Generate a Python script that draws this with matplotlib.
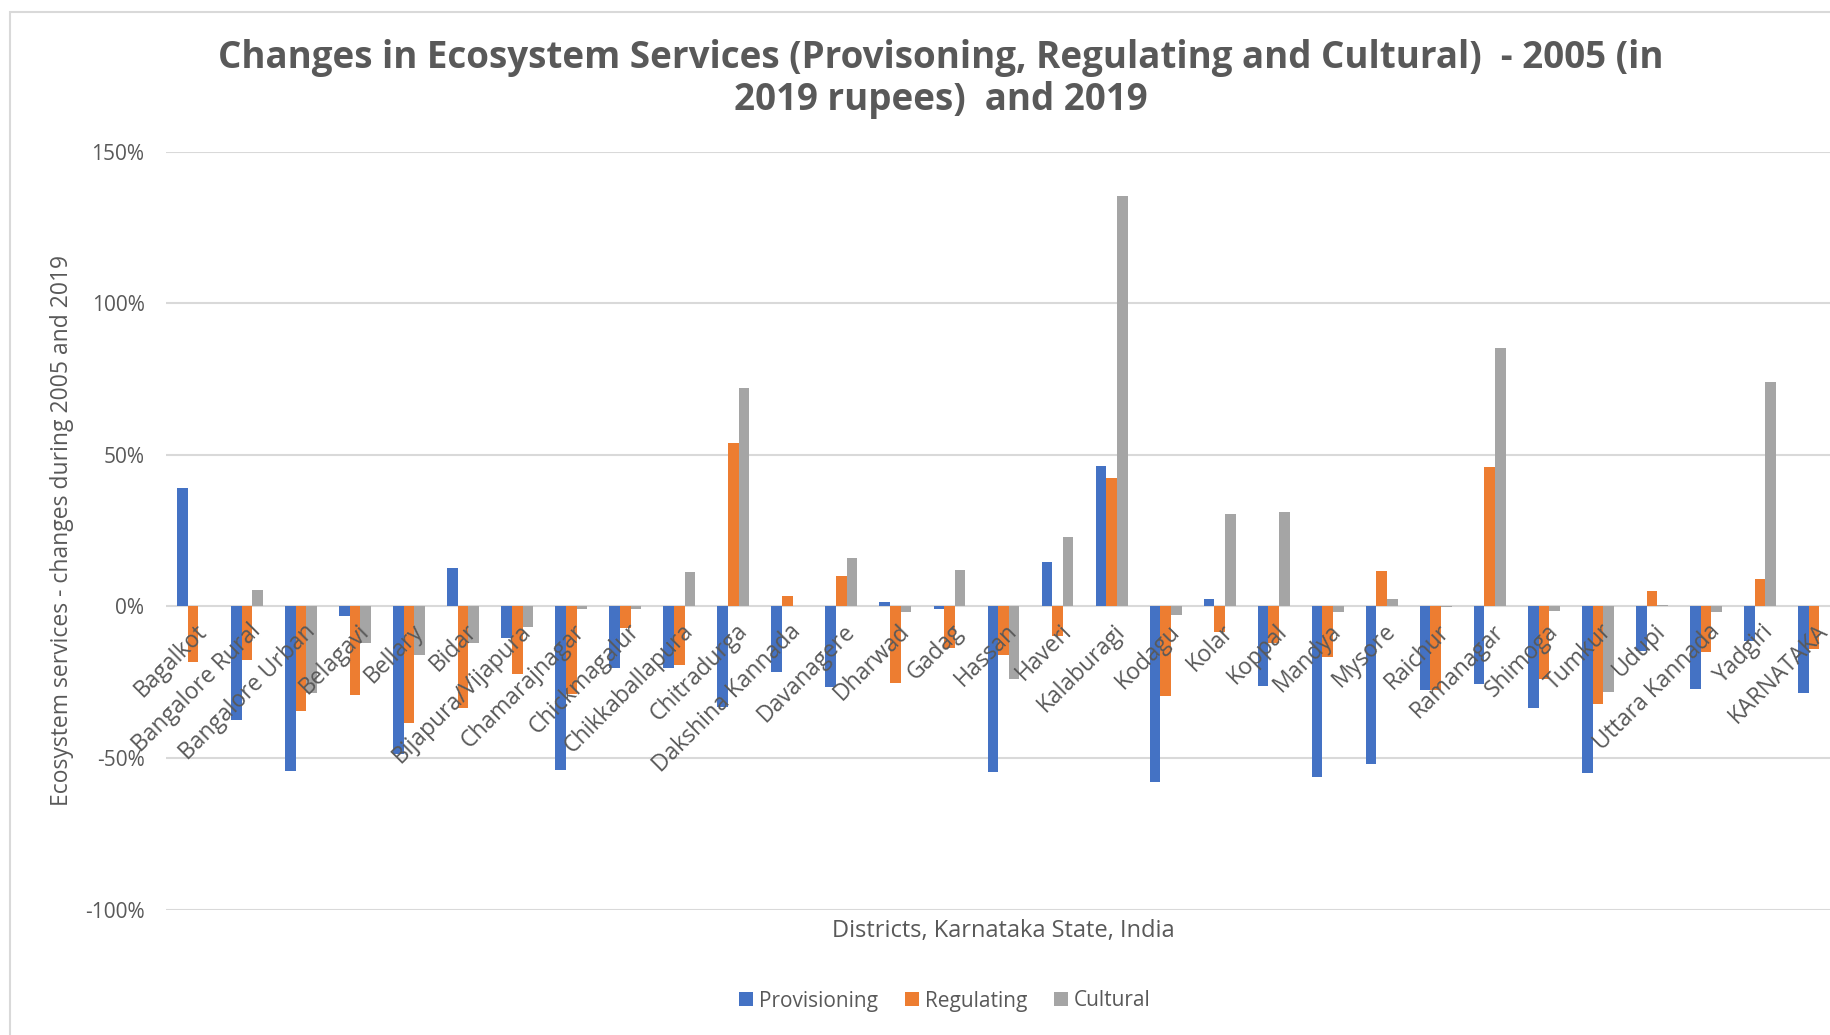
import numpy as np
import matplotlib
matplotlib.use("Agg")
import matplotlib.pyplot as plt
from matplotlib.patches import Rectangle, Patch
from matplotlib.ticker import FuncFormatter
import matplotlib.transforms as mtransforms

plt.rcParams['font.family'] = ['Open Sans', 'DejaVu Sans']

districts = [
    "Bagalkot", "Bangalore Rural", "Bangalore Urban", "Belagavi", "Bellary", "Bidar",
    "Bijapura/Vijapura", "Chamarajnagar", "Chickmagalur", "Chikkaballapura", "Chitradurga",
    "Dakshina Kannada", "Davanagere", "Dharwad", "Gadag", "Hassan", "Haveri", "Kalaburagi",
    "Kodagu", "Kolar", "Koppal", "Mandya", "Mysore", "Raichur", "Ramanagar", "Shimoga",
    "Tumkur", "Udupi", "Uttara Kannada", "Yadgiri", "KARNATAKA",
]

# Percentage change 2005 -> 2019
provisioning = [39.1, -37.4, -54.3, -3.3, -48.8, 12.6, -10.3, -53.8, -20.3, -20.3, -33.1,
                -21.6, -26.4, 1.4, -0.9, -54.5, 14.5, 46.2, -57.8, 2.4, -26.2, -56.4,
                -52.1, -27.6, -25.5, -33.6, -54.8, -14.7, -27.1, -11.4, -28.4]
regulating = [-18.4, -17.8, -34.5, -29.3, -38.3, -33.6, -22.4, -28.8, -7.2, -19.3, 53.8,
              3.4, 10.0, -25.2, -13.8, -16.0, -9.7, 42.2, -29.5, -8.3, -12.1, -16.7,
              11.7, -27.4, 45.9, -23.8, -32.2, 5.0, -15.0, 9.1, -14.1]
cultural = [0.0, 5.3, -28.4, -11.9, -15.9, -12.1, -6.9, -1.0, -0.7, 11.4, 72.1,
            0.0, 15.9, -1.7, 12.1, -23.8, 22.9, 135.3, -2.8, 30.5, 31.0, -1.9,
            2.4, -0.3, 85.2, -1.4, -28.1, 0.5, -1.7, 74.1, 0.0]

series = [("Provisioning", provisioning, "#4472C4"),
          ("Regulating", regulating, "#ED7D31"),
          ("Cultural", cultural, "#A5A5A5")]

TXT = "#595959"
W, H = 1831, 1035
fig = plt.figure(figsize=(W / 100, H / 100), dpi=100)
fig.patch.set_facecolor("white")

# chart-area border (extends past the right and bottom edges)
fig.patches.append(Rectangle((10 / W, -0.1), 1.2, 1 - 12 / H + 0.1, transform=fig.transFigure,
                             fill=False, edgecolor="#D9D9D9", linewidth=1.5, zorder=0))

ax_left, ax_right = 166, 1841
ax_top, ax_bottom = 151.6, 909.7
ax = fig.add_axes([ax_left / W, 1 - ax_bottom / H, (ax_right - ax_left) / W,
                   (ax_bottom - ax_top) / H])
ax.set_facecolor("none")

x = np.arange(len(districts))
bw = 0.197
for k, (name, vals, col) in enumerate(series):
    ax.bar(x + (k - 1) * bw, np.array(vals) / 100.0, width=bw, color=col, label=name, zorder=2)

ax.set_xlim(-0.5, len(districts) - 0.5)
ax.set_ylim(-1.0, 1.5)
ax.set_yticks([-1.0, -0.5, 0.0, 0.5, 1.0, 1.5])
ax.yaxis.set_major_formatter(FuncFormatter(lambda v, p: f"{v * 100:.0f}%"))
ax.grid(axis="y", color="#D9D9D9", linewidth=1.5, zorder=0)
ax.set_axisbelow(True)
for s in ax.spines.values():
    s.set_visible(False)
ax.tick_params(axis="y", length=0, pad=15.5, labelsize=15, labelcolor=TXT)
ax.set_xticks([])

# category labels sit along the zero line
off = mtransforms.offset_copy(ax.transData, fig=fig, x=2, y=-13, units="dots")
for i, name in enumerate(districts):
    ax.text(i, 0, name, rotation=45, ha="right", va="top", rotation_mode="anchor",
            fontsize=16.5, color=TXT, transform=off, zorder=3)

fig.text(62 / W, 1 - 531 / H, "Ecosystem services - changes during 2005 and 2019",
         rotation=90, ha="center", va="center", fontsize=16.5, color=TXT)
fig.text((ax_left + ax_right) / 2 / W, 1 - 931 / H, "Districts, Karnataka State, India",
         ha="center", va="center", fontsize=17, color=TXT)

fig.text(941 / W, 1 - 58 / H,
         "Changes in Ecosystem Services (Provisoning, Regulating and Cultural)  - 2005 (in",
         ha="center", va="center", fontsize=26.5, fontweight="bold", color=TXT)
fig.text(941 / W, 1 - 100 / H, "2019 rupees)  and 2019",
         ha="center", va="center", fontsize=26.5, fontweight="bold", color=TXT)

handles = [Patch(facecolor=c, edgecolor="none", label=n) for n, _, c in series]
fig.legend(handles=handles, loc="center", bbox_to_anchor=(945 / W, 1 - 1001 / H), ncol=3,
           frameon=False, fontsize=15, labelcolor=TXT, handlelength=0.65,
           handleheight=0.65, handletextpad=0.3, columnspacing=1.3)

fig.savefig("out.png", dpi=100, facecolor="white")
